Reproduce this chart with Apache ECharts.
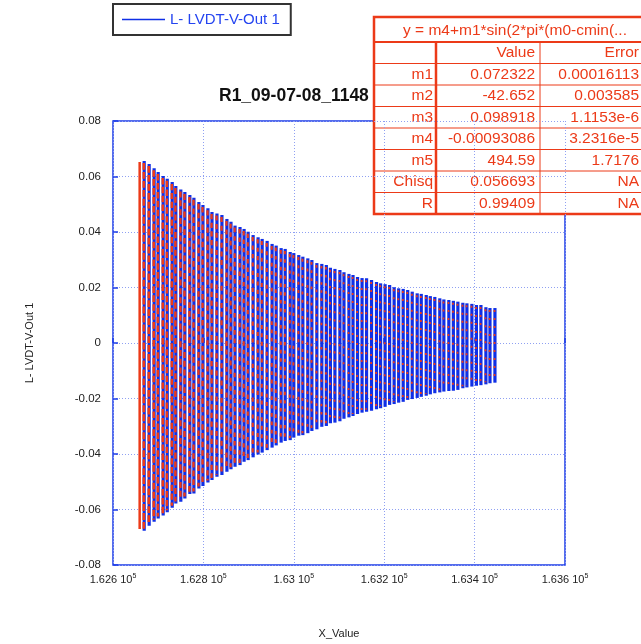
<!DOCTYPE html>
<html>
<head>
<meta charset="utf-8">
<script src="https://cdn.jsdelivr.net/npm/echarts@6/dist/echarts.min.js"></script>
<style>
  html, body { margin: 0; padding: 0; background: #fff; }
  #main { width: 641px; height: 644px; }
</style>
</head>
<body>
<div id="main"></div>
<script>
// data: each aliased stroke of the trace (x, upper end, lower end)
var barX = [
  162669, 162680, 162691, 162700, 162711, 162720, 162731, 162739, 162750, 162759,
  162770, 162779, 162790, 162799, 162810, 162819, 162830, 162841, 162852, 162861,
  162870, 162881, 162890, 162899, 162910, 162921, 162930, 162941, 162952, 162961,
  162972, 162981, 162992, 163000, 163011, 163020, 163031, 163040, 163051, 163062,
  163072, 163081, 163091, 163102, 163111, 163122, 163131, 163141, 163151, 163161,
  163172, 163183, 163192, 163202, 163212, 163222, 163232, 163242, 163252, 163262,
  163273, 163282, 163293, 163302, 163312, 163323, 163332, 163343, 163353, 163363,
  163374, 163383, 163394, 163404, 163414, 163425, 163434, 163445
];
var barTop = [
  0.0656, 0.0645, 0.0630, 0.0616, 0.0602, 0.0592, 0.0580, 0.0566, 0.0553, 0.0544,
  0.0533, 0.0523, 0.0508, 0.0497, 0.0486, 0.0472, 0.0467, 0.0461, 0.0447, 0.0437,
  0.0423, 0.0418, 0.0411, 0.0401, 0.0389, 0.0381, 0.0375, 0.0368, 0.0357, 0.0351,
  0.0342, 0.0339, 0.0328, 0.0324, 0.0317, 0.0311, 0.0305, 0.0299, 0.0288, 0.0285,
  0.0281, 0.0271, 0.0267, 0.0263, 0.0255, 0.0249, 0.0245, 0.0238, 0.0234, 0.0233,
  0.0227, 0.0220, 0.0215, 0.0212, 0.0209, 0.0201, 0.0197, 0.0195, 0.0191, 0.0185,
  0.0179, 0.0177, 0.0173, 0.0169, 0.0166, 0.0161, 0.0157, 0.0155, 0.0152, 0.0149,
  0.0145, 0.0143, 0.0141, 0.0137, 0.0137, 0.0129, 0.0126, 0.0126
];
var barBot = [
  -0.0677, -0.0659, -0.0644, -0.0632, -0.0622, -0.0610, -0.0594, -0.0578, -0.0572, -0.0560,
  -0.0544, -0.0542, -0.0524, -0.0515, -0.0503, -0.0494, -0.0482, -0.0476, -0.0464, -0.0455,
  -0.0446, -0.0440, -0.0428, -0.0422, -0.0412, -0.0402, -0.0395, -0.0386, -0.0377, -0.0369,
  -0.0359, -0.0353, -0.0350, -0.0341, -0.0334, -0.0332, -0.0325, -0.0317, -0.0311, -0.0302,
  -0.0299, -0.0289, -0.0287, -0.0282, -0.0273, -0.0268, -0.0263, -0.0256, -0.0251, -0.0248,
  -0.0244, -0.0239, -0.0235, -0.0230, -0.0223, -0.0220, -0.0215, -0.0212, -0.0205, -0.0202,
  -0.0198, -0.0194, -0.0190, -0.0185, -0.0181, -0.0178, -0.0175, -0.0173, -0.0172, -0.0169,
  -0.0163, -0.0160, -0.0157, -0.0154, -0.0152, -0.0149, -0.0145, -0.0143
];

// fit curve: one lone stroke at the start, then it follows the trace strokes
var fitLeadX = 162659, fitLeadTop = 0.0652, fitLeadBot = -0.0670;

// fit results box
var fitFormula = 'y = m4+m1*sin(2*pi*(m0-cmin(...';
var fitNames = ['m1', 'm2', 'm3', 'm4', 'm5', 'Chisq', 'R'];
var fitValues = ['0.072322', '-42.652', '0.098918', '-0.00093086', '494.59', '0.056693', '0.99409'];
var fitErrors = ['0.00016113', '0.003585', '1.1153e-6', '3.2316e-5', '1.7176', 'NA', 'NA'];

var seriesName = 'L- LVDT-V-Out 1';
var BLUE = '#0f2fe6';
var RED = '#ec3a18';
var FONT = 'Liberation Sans, Arial, sans-serif';

var dataBars = barX.map(function (x, i) { return [x, barTop[i], barBot[i]]; });
var fitBars = [[fitLeadX, fitLeadTop, fitLeadBot]].concat(dataBars);

// table graphic
var T = { left: 374, top: 17, right: 656, head: 42, rowH: 21.5, c1: 436, c2: 540 };
var tbl = [];
var tBottom = T.head + T.rowH * (fitNames.length + 1);
tbl.push({ type: 'rect', shape: { x: T.left, y: T.top, width: T.right - T.left, height: tBottom - T.top },
  style: { fill: '#fff', stroke: RED, lineWidth: 2.5 } });
tbl.push({ type: 'line', shape: { x1: T.left, y1: T.head, x2: T.right, y2: T.head }, style: { stroke: RED, lineWidth: 2 } });
for (var r = 1; r <= fitNames.length; r++) {
  var yy = T.head + T.rowH * r;
  tbl.push({ type: 'line', shape: { x1: T.left, y1: yy, x2: T.right, y2: yy }, style: { stroke: RED, lineWidth: 1 } });
}
tbl.push({ type: 'line', shape: { x1: T.c1, y1: T.head, x2: T.c1, y2: tBottom }, style: { stroke: RED, lineWidth: 2.5 } });
tbl.push({ type: 'line', shape: { x1: T.c2, y1: T.head, x2: T.c2, y2: tBottom }, style: { stroke: RED, lineWidth: 1 } });
function cell(txt, x, y, align) {
  return { type: 'text', x: x, y: y, style: { text: txt, fill: RED, font: '15.5px ' + FONT, textAlign: align, textVerticalAlign: 'middle' } };
}
tbl.push(cell(fitFormula, (T.left + T.right) / 2, (T.top + T.head) / 2 + 1, 'center'));
tbl.push(cell('Value', T.c2 - 5, T.head + T.rowH / 2, 'right'));
tbl.push(cell('Error', T.right - 17, T.head + T.rowH / 2, 'right'));
fitNames.forEach(function (n, i) {
  var cy = T.head + T.rowH * (i + 1.5);
  tbl.push(cell(n, T.c1 - 3, cy, 'right'));
  tbl.push(cell(fitValues[i], T.c2 - 5, cy, 'right'));
  tbl.push(cell(fitErrors[i], T.right - 17, cy, 'right'));
});

var chart = echarts.init(document.getElementById('main'));

var option = {
  backgroundColor: '#fff',
  animation: false,
  title: {
    text: 'R1_09-07-08_1148',
    left: 214, top: 82,
    textStyle: { fontFamily: FONT, fontSize: 17.5, fontWeight: 'bold', color: '#111' }
  },
  legend: {
    data: [{ name: seriesName, icon: 'rect' }],
    left: 113, top: 4,
    itemWidth: 43, itemHeight: 1.5, itemGap: 6,
    padding: [8, 11, 8, 9],
    backgroundColor: '#fff',
    borderColor: '#333', borderWidth: 2,
    textStyle: { fontFamily: FONT, fontSize: 15, color: '#2444f0' }
  },
  grid: {
    left: 113, top: 121, width: 452, height: 444,
    show: true, borderColor: '#1c3ce8', borderWidth: 1.5, backgroundColor: 'transparent'
  },
  xAxis: {
    type: 'value', min: 162600, max: 163600, interval: 200,
    name: 'X_Value', nameLocation: 'middle', nameGap: 63,
    nameTextStyle: { fontFamily: FONT, fontSize: 11, color: '#222' },
    axisLine: { show: false },
    axisTick: { inside: true, length: 5, lineStyle: { color: '#1c3ce8', width: 1.5 } },
    splitLine: { show: true, lineStyle: { color: '#8fa0f2', type: [1, 2], width: 1 } },
    axisLabel: {
      margin: 8,
      formatter: function (v) { return '{a|' + parseFloat((v / 1e5).toFixed(4)) + ' 10}{s|5}'; },
      rich: {
        a: { fontFamily: FONT, fontSize: 11, color: '#222' },
        s: { fontFamily: FONT, fontSize: 7, color: '#222', verticalAlign: 'top', padding: [0, 0, 6, 0] }
      }
    }
  },
  yAxis: {
    type: 'value', min: -0.08, max: 0.08, interval: 0.02,
    name: seriesName, nameLocation: 'middle', nameGap: 78,
    nameTextStyle: { fontFamily: FONT, fontSize: 11, color: '#222' },
    axisLine: { show: false },
    axisTick: { inside: true, length: 5, lineStyle: { color: '#1c3ce8', width: 1.5 } },
    splitLine: { show: true, lineStyle: { color: '#8fa0f2', type: [1, 2], width: 1 } },
    axisLabel: {
      margin: 12, fontFamily: FONT, fontSize: 11.5, color: '#222',
      formatter: function (v) { return String(parseFloat(v.toFixed(2))); }
    }
  },
  series: [
    {
      name: seriesName,
      type: 'custom',
      itemStyle: { color: BLUE },
      encode: { x: 0, y: [1, 2] },
      data: dataBars,
      renderItem: function (params, api) {
        var p1 = api.coord([api.value(0), api.value(1)]);
        var p2 = api.coord([api.value(0), api.value(2)]);
        return { type: 'rect', shape: { x: p1[0] - 1.6, y: p1[1], width: 3.2, height: p2[1] - p1[1] },
          style: { fill: BLUE } };
      }
    },
    {
      name: 'fit',
      type: 'custom',
      itemStyle: { color: RED },
      encode: { x: 0, y: [1, 2] },
      data: fitBars,
      renderItem: function (params, api) {
        var p1 = api.coord([api.value(0), api.value(1)]);
        var p2 = api.coord([api.value(0), api.value(2)]);
        var i = params.dataIndex;
        if (i === 0) {
          return { type: 'line', shape: { x1: p1[0], y1: p1[1], x2: p2[0], y2: p2[1] },
            style: { stroke: RED, lineWidth: 2.5 } };
        }
        // the fit swamps the trace at the start and thins to dashes further right
        var t = Math.min(1, i / 45);
        var on = 7 - 5 * t, off = 2 + 4 * t;
        return { type: 'line', shape: { x1: p1[0] - 0.4, y1: p1[1] + 2, x2: p2[0] - 0.4, y2: p2[1] - 2 },
          style: { stroke: RED, lineWidth: 2.6 - 0.8 * t, lineDash: [on, off] } };
      }
    }
  ],
  graphic: [{ type: 'group', z: 100, children: tbl }]
};

chart.setOption(option);
</script>
</body>
</html>
